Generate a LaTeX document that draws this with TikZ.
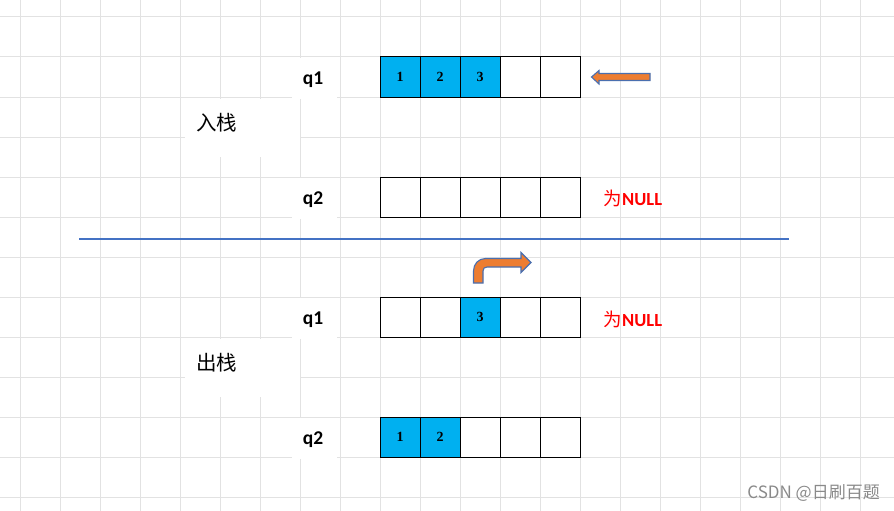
\documentclass[tikz,border=0pt]{standalone}
\usepackage{fontspec}
\setmainfont{Liberation Serif}
\newfontfamily\lblfont{Carlito}
\newfontfamily\cjk{Noto Sans CJK SC}
\definecolor{gridc}{HTML}{E2E2E2}
\definecolor{cellblue}{HTML}{00B0F0}
\definecolor{arrfill}{HTML}{ED7D31}
\definecolor{arrline}{HTML}{4A6FAF}
\definecolor{sepblue}{HTML}{4472C4}
\definecolor{wmgray}{HTML}{8A8A8A}
\tikzset{
  cell/.style={draw=black, line width=1pt, minimum width=40pt, minimum height=40pt, inner sep=0pt, font=\bfseries\fontsize{14}{14}\selectfont},
  bluecell/.style={cell, fill=cellblue},
  qlabel/.style={font=\lblfont\bfseries\fontsize{19.5}{19.5}\selectfont, inner sep=0pt},
  stagelabel/.style={font=\cjk\fontsize{20.5}{20.5}\selectfont, inner sep=0pt},
  nulllabel/.style={text=red, font=\lblfont\bfseries\fontsize{18.5}{18.5}\selectfont, inner sep=0pt},
  patch/.style={fill=white, draw=none},
  bigarrow/.style={fill=arrfill, draw=arrline, line width=1.1pt, line join=miter}
}
\begin{document}
\begin{tikzpicture}[x=1pt, y=-1pt]
\useasboundingbox (0,0) rectangle (894,511);
\fill[white] (0,0) rectangle (894,511);
% grid
\foreach \gx in {20,60,...,860} \draw[gridc, line width=1pt] (\gx,0) -- (\gx,511);
\foreach \gy in {17,57,...,497} \draw[gridc, line width=1pt] (0,\gy) -- (894,\gy);
% white patches behind labels
\fill[patch] (185,99) rectangle (300,157);
\fill[patch] (185,339) rectangle (300,397);
\fill[patch] (292,58) rectangle (337,99);
\fill[patch] (292,178) rectangle (337,219);
\fill[patch] (292,298) rectangle (337,339);
\fill[patch] (292,418) rectangle (337,459);
% separator line
\coordinate (sepL) at (79,239);
\coordinate (sepR) at (789,239);
\draw[sepblue, line width=1.5pt] (sepL) -- (sepR);
% labels
\node[qlabel] (q1a) at (313,80) {q1};
\node[qlabel] (q2a) at (313,200) {q2};
\node[qlabel] (q1b) at (313,320) {q1};
\node[qlabel] (q2b) at (313,440) {q2};
\node[stagelabel] (in) at (216.5,123) {入栈};
\node[stagelabel] (out) at (216.5,363) {出栈};
% top q1
\node[bluecell] (ta1) at (400,77) {1};
\node[bluecell] (ta2) at (440,77) {2};
\node[bluecell] (ta3) at (480,77) {3};
\node[cell] (ta4) at (520,77) {};
\node[cell] (ta5) at (560,77) {};
% top q2
\node[cell] (tb1) at (400,197) {};
\node[cell] (tb2) at (440,197) {};
\node[cell] (tb3) at (480,197) {};
\node[cell] (tb4) at (520,197) {};
\node[cell] (tb5) at (560,197) {};
% bottom q1
\node[cell] (ba1) at (400,317) {};
\node[cell] (ba2) at (440,317) {};
\node[bluecell] (ba3) at (480,317) {3};
\node[cell] (ba4) at (520,317) {};
\node[cell] (ba5) at (560,317) {};
% bottom q2
\node[bluecell] (bb1) at (400,437) {1};
\node[bluecell] (bb2) at (440,437) {2};
\node[cell] (bb3) at (480,437) {};
\node[cell] (bb4) at (520,437) {};
\node[cell] (bb5) at (560,437) {};
% NULL labels
\node[nulllabel, anchor=west] (n1) at (603.5,198) {{\cjk\mdseries 为}NULL};
\node[nulllabel, anchor=west] (n2) at (603.5,319) {{\cjk\mdseries 为}NULL};
% left block arrow
\draw[bigarrow] (591.5,77) -- (599,70.5) -- (599,73.5) -- (650,73.5) -- (650,80.5) -- (599,80.5) -- (599,84) -- cycle;
% bent block arrow
\draw[bigarrow] (473.5,283) -- (473.5,271)
  .. controls (473.5,264) and (478.5,258.5) .. (485.5,258.5)
  -- (521,258.5) -- (521,252.5) -- (531,262.5) -- (521,272.5) -- (521,267)
  -- (487,267) .. controls (484.5,267) and (483,268.5) .. (483,271)
  -- (483,283) -- cycle;
% watermark
\node[text=wmgray, font=\cjk\fontsize{17}{17}\selectfont, anchor=east, inner sep=0pt] (wm) at (880,493) {CSDN @日刷百题};
\end{tikzpicture}
\end{document}
